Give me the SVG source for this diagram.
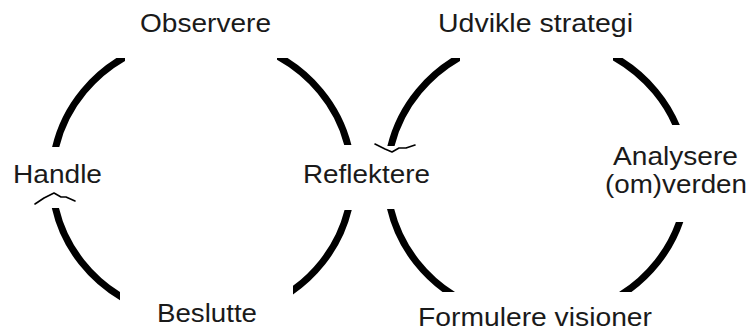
<svg xmlns="http://www.w3.org/2000/svg" width="750" height="333" viewBox="0 0 750 333">
<style>
  .lbl { font-family: "Liberation Sans", Arial, sans-serif; font-size: 26px; fill: #1a1a1a; }
  .arc { fill: none; stroke: #000; stroke-width: 7; stroke-linecap: butt; }
  .head { fill: none; stroke: #000; stroke-width: 1.6; stroke-linejoin: round; stroke-linecap: round; }
</style>
<defs>
  <clipPath id="c1"><rect x="0" y="58" width="125" height="89"/></clipPath>
  <clipPath id="c2"><rect x="277" y="58" width="125" height="87"/></clipPath>
  <clipPath id="c3"><rect x="293" y="210" width="100" height="120"/></clipPath>
  <clipPath id="c4"><rect x="0" y="208" width="120" height="120"/></clipPath>
  <clipPath id="c5"><rect x="350" y="58" width="110" height="88"/></clipPath>
  <clipPath id="c6"><rect x="613" y="58" width="130" height="67"/></clipPath>
  <clipPath id="c7"><rect x="537" y="222" width="200" height="70"/></clipPath>
  <clipPath id="c8"><rect x="350" y="209" width="187" height="83"/></clipPath>
</defs>
<rect width="750" height="333" fill="#fff"/>
<g id="connectors">
  <path class="arc" clip-path="url(#c1)" d="M 54.6 152 A 150 141 0 0 1 139.1 50"/>
  <path class="arc" clip-path="url(#c2)" d="M 264.9 50 A 150 141 0 0 1 349.4 152"/>
  <path class="arc" clip-path="url(#c3)" d="M 350.2 200 A 150 141 0 0 1 267.2 305"/>
  <path class="arc" clip-path="url(#c4)" d="M 136.8 305 A 150 141 0 0 1 53.8 200"/>
  <polyline class="head" points="35,204 44,198 54,193 61,197 66,197 75,201"/>
  <path class="arc" clip-path="url(#c5)" d="M 389.6 152 A 150 141 0 0 1 474.1 50"/>
  <path class="arc" clip-path="url(#c6)" d="M 599.9 50 A 150 141 0 0 1 684.4 152"/>
  <path class="arc" clip-path="url(#c7)" d="M 685.2 200 A 150 141 0 0 1 602.2 305"/>
  <path class="arc" clip-path="url(#c8)" d="M 471.8 305 A 150 141 0 0 1 388.8 200"/>
  <polyline class="head" points="375,144 385,149 392,152 399,148 406,148 415,145"/>
</g>
<g id="observere"><text class="lbl" x="140" y="32" textLength="131" lengthAdjust="spacingAndGlyphs">Observere</text></g>
<g id="handle"><text class="lbl" x="13" y="183" textLength="89" lengthAdjust="spacingAndGlyphs">Handle</text></g>
<g id="reflektere"><text class="lbl" x="303" y="183" textLength="127" lengthAdjust="spacingAndGlyphs">Reflektere</text></g>
<g id="beslutte"><text class="lbl" x="157" y="322" textLength="100" lengthAdjust="spacingAndGlyphs">Beslutte</text></g>
<g id="udvikle"><text class="lbl" x="438" y="32" textLength="195" lengthAdjust="spacingAndGlyphs">Udvikle strategi</text></g>
<g id="analysere">
  <text class="lbl" x="613" y="165" textLength="125" lengthAdjust="spacingAndGlyphs">Analysere</text>
  <text class="lbl" x="605" y="193" textLength="142" lengthAdjust="spacingAndGlyphs">(om)verden</text>
</g>
<g id="formulere"><text class="lbl" x="418" y="326" textLength="234" lengthAdjust="spacingAndGlyphs">Formulere visioner</text></g>
</svg>
